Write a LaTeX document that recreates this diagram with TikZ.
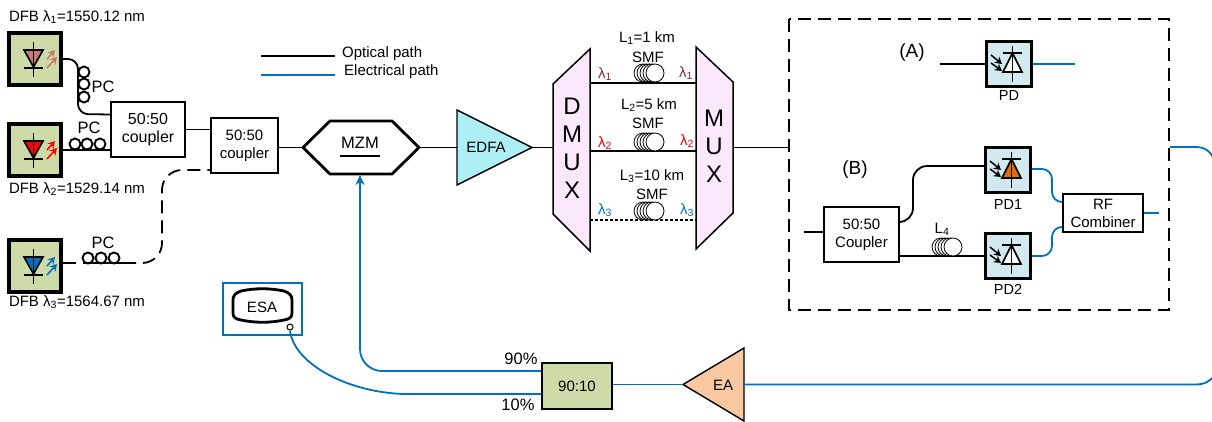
\documentclass[tikz,border=0pt]{standalone}
\usepackage{fontspec}
\setmainfont{Liberation Sans}
\usetikzlibrary{arrows.meta,positioning}
\definecolor{elecblue}{HTML}{0070C0}
\definecolor{lasergreen}{HTML}{CCDBA8}
\definecolor{pdblue}{HTML}{D2E9F0}
\definecolor{muxpink}{HTML}{FBE9FB}
\definecolor{edfacyan}{HTML}{AEEFF5}
\definecolor{eapeach}{HTML}{F8C9A0}
\definecolor{lamred}{HTML}{7F3030}
\definecolor{diodered}{HTML}{C87870}
\definecolor{diodeorange}{HTML}{E36C0A}
\tikzset{
  every node/.style={font=\fontsize{15}{18}\selectfont,inner sep=0pt,align=center},
  sized/.style 2 args={minimum width=#1pt,minimum height=#2pt,inner sep=0pt},
  optic/.style={line width=1.8pt},
  elec/.style={line width=1.8pt,draw=elecblue},
  longdash/.style={line width=1.8pt,dash pattern=on 13pt off 7pt},
  whitebox/.style={draw,line width=1.5pt,fill=white},
  laserbox/.style={draw,line width=3.4pt,fill=lasergreen,sized={52}{52}},
  pdbox/.style={draw,line width=3.4pt,fill=pdblue,sized={45}{45}},
  small/.style={font=\fontsize{14.5}{17}\selectfont},
  pclabel/.style={font=\fontsize{16.5}{18}\selectfont},
  pcloop/.style={line width=1.9pt},
  glow/.style={line width=1.5pt,-{Stealth[length=7pt,width=8pt]}}
}
% laser: name, centre, colour of the diode
\newcommand{\laser}[3]{
  \node[laserbox] (#1) at (#2) {};
  \begin{scope}[shift={(#2)}]
    \draw[line width=1.6pt,fill=#3] (-11,-9) -- (8,-9) -- (-1.5,8) -- cycle;
    \draw[line width=1.6pt] (-11,9) -- (8,9);
    \draw[line width=1.6pt] (-1.5,-17) -- (-1.5,18);
    \draw[#3,glow] (12,0) -- (20,-9);
    \draw[#3,glow] (12,9) -- (22,-2);
  \end{scope}
}
% photodiode: name, centre, colour of the diode
\newcommand{\photodiode}[3]{
  \node[pdbox] (#1) at (#2) {};
  \begin{scope}[shift={(#2)}]
    \draw[line width=1.6pt,fill=#3] (-6,8) -- (13,8) -- (3.5,-11) -- cycle;
    \draw[line width=1.6pt] (-6,-11) -- (13,-11);
    \draw[line width=1.6pt] (3.5,-18) -- (3.5,18);
    \draw[glow] (-18,-9) -- (-7,0);
    \draw[glow] (-18,-1) -- (-7,7);
  \end{scope}
}
% fibre spool, position of the front circle
\newcommand{\spool}[1]{
  \begin{scope}[shift={(#1)}]
    \foreach \i in {-12,-9,-6,-3,0}
      \draw[line width=0.8pt,fill=white] (\i,0) circle (9);
  \end{scope}
}
\begin{document}
\begin{tikzpicture}[x=1pt,y=-1pt]
  \useasboundingbox (0,0) rectangle (1212,421);

  % sources
  \laser{laserA}{35,59}{diodered}
  \laser{laserB}{35,150}{red}
  \laser{laserC}{35,266}{elecblue}
  \node (dfbA) at (77,17) {DFB λ\textsubscript{1}=1550.12 nm};
  \node (dfbB) at (77,189) {DFB λ\textsubscript{2}=1529.14 nm};
  \node (dfbC) at (77,302) {DFB λ\textsubscript{3}=1564.67 nm};

  \node[whitebox,sized={74}{55},font=\fontsize{16}{18}\selectfont] (couplerA) at (148,129.5) {50:50\\coupler};
  \node[whitebox,sized={67}{55}] (couplerB) at (244.5,145.5) {50:50\\coupler};

  \draw[optic,rounded corners=10] (laserA.east) -- (78,59) -- (78,114) -- ([yshift=15pt]couplerA.west);
  \draw[optic] (laserB.east) -- (laserB.east -| couplerA.west);
  \draw[optic] (couplerA.east) -- (couplerA.east -| couplerB.west);
  \foreach \yc in {72,84,97}
    \draw[pcloop] (84,\yc) circle (5.5);
  \foreach \xc in {75,87,100}
    \draw[pcloop] (\xc,144) circle (5.5);
  \foreach \xc in {88,101,114}
    \draw[pcloop] (\xc,258) circle (5.5);
  \node[pclabel] (pcA) at (103,87) {PC};
  \node[pclabel] (pcB) at (89,128) {PC};
  \node[pclabel] (pcC) at (103,243) {PC};

  \coordinate (pcCin) at (83,263);
  \coordinate (pcCout) at (123,263);
  \draw[longdash] ([yshift=3pt]laserC.east) -- (pcCin);
  \draw[optic] (pcCin) -- (pcCout);
  \draw[longdash,rounded corners=20] (pcCout) -- (162,263) -- (162,170) -- ([yshift=-24.5pt]couplerB.west);

  % modulator and amplifier
  \node[sized={116}{53}] (mzm) at (361,147.5) {};
  \draw[line width=2.8pt,join=miter] (303,147.5) -- (330,121) -- (392,121) -- (419,147.5) -- (392,174) -- (330,174) -- cycle;
  \node[font=\fontsize{16.5}{18}\selectfont] (mzmLabel) at (360,143) {MZM};
  \draw[line width=1.6pt] (340,156) -- (380,156);
  \node[sized={75}{75}] (edfa) at (494.5,147.5) {};
  \draw[line width=1.4pt,fill=edfacyan] (457,110) -- (532,147.5) -- (457,185) -- cycle;
  \node (edfaLabel) at (486,147) {EDFA};
  \draw[optic] (couplerB.east |- mzm.west) -- (mzm.west);
  \draw[optic] (mzm.east) -- (edfa.west);

  % demultiplexer, fibres, multiplexer
  \node[sized={37}{202}] (dmux) at (571.5,150) {};
  \draw[line width=1.5pt,fill=muxpink] (553,84) -- (590,49) -- (590,251) -- (553,214) -- cycle;
  \node[font=\fontsize{24}{28}\selectfont] (dmuxLabel) at (572,148) {D\\M\\U\\X};
  \node[sized={37}{202}] (mux) at (714.5,148) {};
  \draw[line width=1.5pt,fill=muxpink] (696,47) -- (733,82) -- (733,213) -- (696,249) -- cycle;
  \node[font=\fontsize{24}{28}\selectfont] (muxLabel) at (714,146) {M\\U\\X};
  \draw[optic] (edfa.east) -- (dmux.west |- edfa.east);

  \coordinate (rowA) at (640,83);
  \coordinate (rowB) at (640,151);
  \coordinate (rowC) at (640,220);
  \draw[optic] (dmux.east |- rowA) -- (mux.west |- rowA);
  \draw[optic] (dmux.east |- rowB) -- (mux.west |- rowB);
  \draw[line width=1.5pt,dash pattern=on 3pt off 2pt] (dmux.east |- rowC) -- (mux.west |- rowC);
  \spool{655,73}
  \spool{655,142}
  \spool{655,211}
  \node (lenA) at (647,38) {L\textsubscript{1}=1 km};
  \node (smfA) at (648,57) {SMF};
  \node (lenB) at (649,105) {L\textsubscript{2}=5 km};
  \node (smfB) at (648,123) {SMF};
  \node (lenC) at (652,176) {L\textsubscript{3}=10 km};
  \node (smfC) at (652,194) {SMF};
  \node[text=lamred] (lamAin) at (605,74) {λ\textsubscript{1}};
  \node[text=lamred] (lamAout) at (686,73) {λ\textsubscript{1}};
  \node[text=red] (lamBin) at (605,143) {λ\textsubscript{2}};
  \node[text=red] (lamBout) at (687,141) {λ\textsubscript{2}};
  \node[text=elecblue] (lamCin) at (605,210) {λ\textsubscript{3}};
  \node[text=elecblue] (lamCout) at (687,210) {λ\textsubscript{3}};

  % receiver options
  \draw[longdash] (789,19) rectangle (1169,310);
  \draw[optic] (mux.east |- mzm.east) -- (789,147.5);
  \node[font=\fontsize{19}{22}\selectfont] (optA) at (912,53) {(A)};
  \node[font=\fontsize{19}{22}\selectfont] (optB) at (855,170) {(B)};
  \photodiode{pd}{1009,64}{white}
  \photodiode{pdOne}{1008,170}{diodeorange}
  \photodiode{pdTwo}{1008,256}{white}
  \node[small] (pdLabel) at (1009,96) {PD};
  \node[small] (pdOneLabel) at (1008,205) {PD1};
  \node[small] (pdTwoLabel) at (1008,289) {PD2};
  \coordinate (pdIn) at (940,64);
  \coordinate (pdOut) at (1075,64);
  \draw[optic] (pdIn) -- (pd.west);
  \draw[elec] (pd.east) -- (pdOut);

  \node[whitebox,sized={75}{55}] (splitter) at (861.5,234.5) {50:50\\Coupler};
  \node[whitebox,sized={80}{38}] (combiner) at (1103,213) {RF\\Combiner};
  \coordinate (splitIn) at (804,232);
  \draw[optic] (splitIn) -- (splitIn -| splitter.west);
  \draw[optic,rounded corners=14] ([yshift=12.5pt]splitter.east) -- (913,222) -- (913,166) -- ([yshift=4pt]pdOne.west);
  \draw[optic] (pdTwo.west -| splitter.east) -- (pdTwo.west);
  \spool{953,247}
  \node (lenD) at (942,229) {L\textsubscript{4}};
  \draw[elec,rounded corners=10] ([yshift=1pt]pdOne.east) -- (1052,169) -- (1052,202) -- ([yshift=11pt]combiner.west);
  \draw[elec,rounded corners=10] (pdTwo.east) -- (1052,256) -- (1052,227) -- ([yshift=-14pt]combiner.west);
  \coordinate (rfOut) at (1159,213);
  \draw[elec] (combiner.east) -- (rfOut);

  % feedback to the modulator
  \node[whitebox,fill=lasergreen,line width=2pt,sized={70}{46}] (split) at (577,386) {90:10};
  \node[sized={61}{73}] (ea) at (713.5,384.5) {};
  \draw[line width=1.4pt,fill=eapeach] (683,384.5) -- (744,348) -- (744,421) -- cycle;
  \node (eaLabel) at (723,385) {EA};
  \coordinate (boxOut) at (1170,147);
  \coordinate (edgeTop) at (1214,159);
  \coordinate (edgeBottom) at (1214,376);
  \draw[elec] (boxOut) -- (1195,147) .. controls (1205,147) and (1210,151) .. (edgeTop);
  \draw[elec] (edgeBottom) .. controls (1210,381) and (1205,384.5) .. (1195,384.5) -- (ea.east);
  \draw[elec] (ea.west) -- (split.east |- ea.west);
  \draw[elec,rounded corners=22,-{Stealth[length=10pt,width=9pt]}] ([yshift=15pt]split.west) -- (360,371) -- (360,175);
  \node[font=\fontsize{16.5}{18}\selectfont] (pctA) at (521,359) {90\%};
  \node[font=\fontsize{16.5}{18}\selectfont] (pctB) at (518,405) {10\%};

  % spectrum analyser
  \node[draw=elecblue,line width=1.5pt,sized={79}{52}] (esaBox) at (262.5,309) {};
  \draw[line width=2.8pt] (241,291) .. controls (255,288) and (270,288) .. (284,291) .. controls (290,293) and (292,296) .. (292,300) -- (292,313) .. controls (292,317) and (290,319) .. (284,320) .. controls (270,323) and (255,323) .. (241,320) .. controls (235,319) and (233,317) .. (233,313) -- (233,300) .. controls (233,296) and (235,293) .. (241,291) -- cycle;
  \node (esaLabel) at (262,307) {ESA};
  \node[draw,circle,line width=1pt,fill=white,minimum size=6pt] (esaPort) at (290,327) {};
  \draw[elec] (esaPort.south) .. controls (294,366) and (355,396) .. (415,394) -- ([yshift=-8pt]split.west);

  % legend
  \coordinate (legA) at (261,56);
  \coordinate (legAend) at (335,56);
  \coordinate (legB) at (261,75);
  \coordinate (legBend) at (335,75);
  \draw[optic] (legA) -- (legAend);
  \draw[elec] (legB) -- (legBend);
  \node[anchor=west] (legOptical) at (342,54) {Optical path};
  \node[anchor=west] (legElectrical) at (344,72) {Electrical path};
\end{tikzpicture}
\end{document}
